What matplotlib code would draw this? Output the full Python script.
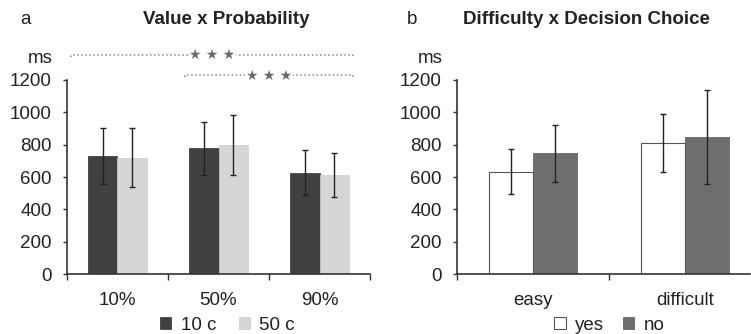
import matplotlib
matplotlib.use("Agg")
import matplotlib.pyplot as plt
import numpy as np

# panel a: Value x Probability
prob_labels = ['10%', '50%', '90%']
val_10c = [730, 779, 627]
err_10c = [175, 164, 139]
val_50c = [720, 798, 612]
err_50c = [180, 184, 138]

# panel b: Difficulty x Decision Choice
diff_labels = ['easy', 'difficult']
val_yes = [633, 810]
err_yes = [138, 177]
val_no = [748, 848]
err_no = [176, 290]

yticks = [0, 200, 400, 600, 800, 1000, 1200]

plt.rcParams['font.family'] = ['Liberation Sans', 'DejaVu Sans']
txt = '#222222'
spine_c = '#333333'

fig = plt.figure(figsize=(7.51, 3.34), dpi=100)
ax1 = fig.add_axes([0.0892, 0.1796, 0.4035, 0.5809])
ax2 = fig.add_axes([0.6085, 0.1796, 0.3902, 0.5809])

w = 0.29


def style(ax):
    for s in ['top', 'right']:
        ax.spines[s].set_visible(False)
    for s in ['left', 'bottom']:
        ax.spines[s].set_color(spine_c)
        ax.spines[s].set_linewidth(1.2)
    ax.set_ylim(0, 1200)
    ax.set_yticks(yticks)
    ax.tick_params(axis='y', length=3, width=1, colors=spine_c, labelcolor=txt, labelsize=13.5, pad=8)
    ax.tick_params(axis='x', which='major', length=4, width=1, colors=spine_c, direction='out')
    ax.tick_params(axis='x', which='minor', length=0, labelsize=13.5, labelcolor=txt, pad=13)
    ax.annotate('ms', xy=(0, 1), xycoords='axes fraction', xytext=(-14, 13), textcoords='offset pixels',
                ha='right', va='bottom', fontsize=13.5, color=txt)


ekw = dict(ecolor='#222222', elinewidth=1, capsize=2, capthick=1)

# ---- panel a ----
x = np.arange(len(prob_labels))
ax1.bar(x - w / 2, val_10c, w, yerr=err_10c, color='#404040', edgecolor='#303030', linewidth=0.5, error_kw=ekw, label='10 c')
ax1.bar(x + w / 2, val_50c, w, yerr=err_50c, color='#d6d6d6', edgecolor='#cccccc', linewidth=0.5, error_kw=ekw, label='50 c')
ax1.set_xlim(-0.5, 2.5)
ax1.set_xticks([-0.5, 0.5, 1.5, 2.5])
ax1.set_xticklabels([])
ax1.set_xticks(x, prob_labels, minor=True)
style(ax1)

# significance brackets
def bracket(ax, x0, x1, y, h=12):
    ax.plot([x0, x0, x1, x1], [y - h, y, y, y - h], ls=':', color='#8a8a8a', lw=1.1, clip_on=False)
    ax.text((x0 + x1) / 2, y, '\u2605 \u2605 \u2605', ha='center', va='center', fontsize=10,
            color='#6a6a6a', family='DejaVu Sans', clip_on=False,
            bbox=dict(boxstyle='square,pad=0.05', fc='white', ec='none'))

bracket(ax1, -0.46, 2.33, 1355)
bracket(ax1, 0.67, 2.33, 1228)

ax1.legend(loc='center', bbox_to_anchor=(0.53, -0.265), ncol=2, frameon=False, fontsize=13.5,
           handlelength=0.6, handleheight=0.6, handletextpad=0.5, columnspacing=1.2, labelcolor=txt)

# ---- panel b ----
x2 = np.arange(len(diff_labels))
ax2.bar(x2 - w / 2, val_yes, w, yerr=err_yes, color='white', edgecolor='#555555', linewidth=0.8, error_kw=ekw, label='yes')
ax2.bar(x2 + w / 2, val_no, w, yerr=err_no, color='#6e6e6e', edgecolor='#555555', linewidth=0.5, error_kw=ekw, label='no')
ax2.set_xlim(-0.5, 1.43)
ax2.set_xticks([-0.5, 0.5])
ax2.set_xticklabels([])
ax2.set_xticks(x2, diff_labels, minor=True)
style(ax2)

ax2.legend(loc='center', bbox_to_anchor=(0.52, -0.265), ncol=2, frameon=False, fontsize=13.5,
           handlelength=0.6, handleheight=0.6, handletextpad=0.5, columnspacing=1.0, labelcolor=txt)

# panel letters and titles
fig.text(20 / 751, 1 - 20 / 334, 'a', fontsize=13.5, color=txt, ha='left', va='center')
fig.text(226 / 751, 1 - 20 / 334, 'Value x Probability', fontsize=13.5, fontweight='bold', color=txt, ha='center', va='center')
fig.text(407 / 751, 1 - 20 / 334, 'b', fontsize=13.5, color=txt, ha='left', va='center')
fig.text(586 / 751, 1 - 20 / 334, 'Difficulty x Decision Choice', fontsize=13.5, fontweight='bold', color=txt, ha='center', va='center')

fig.savefig('out.png', dpi=100)
